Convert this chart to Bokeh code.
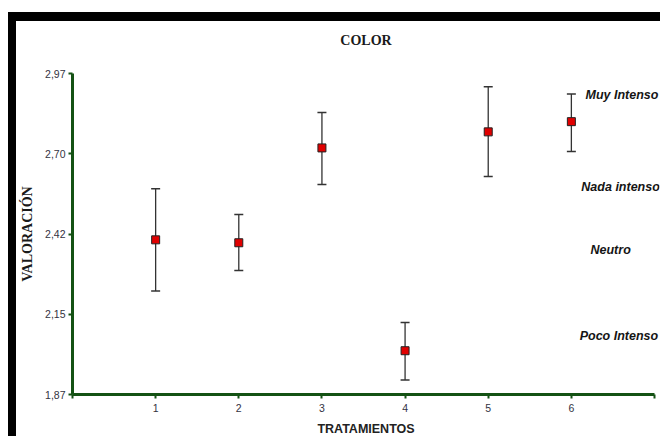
from bokeh.plotting import figure
from bokeh.models import (Range1d, FixedTicker, Whisker, TeeHead, ColumnDataSource, Label,
                          LinearAxis)
from bokeh.embed import file_html
from bokeh.resources import INLINE

# ---- data ----
tratamientos = [1, 2, 3, 4, 5, 6]
media = [2.40, 2.39, 2.715, 2.02, 2.77, 2.805]
limite_inf = [2.225, 2.295, 2.59, 1.92, 2.617, 2.703]
limite_sup = [2.575, 2.487, 2.836, 2.117, 2.925, 2.90]

y_ticks = [1.87, 2.145, 2.42, 2.695, 2.97]
y_tick_labels = ["1,87", "2,15", "2,42", "2,70", "2,97"]
x_ticks = [0, 1, 2, 3, 4, 5, 6, 7]
x_tick_labels = ["", "1", "2", "3", "4", "5", "6", ""]

escala = ["Muy Intenso", "Nada intenso", "Neutro", "Poco Intenso"]
escala_x = [6.17, 6.12, 6.23, 6.10]
escala_y = [2.895, 2.580, 2.364, 2.069]

titulo = "COLOR"
x_titulo = "TRATAMIENTOS"
y_titulo = "VALORACIÓN"

GREEN = "#145214"
SANS = "Liberation Sans"

p = figure(width=652, height=424, output_backend="svg", toolbar_location=None,
           x_range=Range1d(0, 7.06), y_range=Range1d(1.87, 2.97),
           min_border_left=56, min_border_right=9, min_border_top=52, min_border_bottom=51)
p.styles = {"border-top": "9px solid black", "border-left": "8px solid black",
            "margin-left": "8px", "margin-top": "12px"}
p.outline_line_color = None
p.grid.visible = False
p.background_fill_color = "white"
p.border_fill_color = "white"

for ax in (p.xaxis[0], p.yaxis[0]):
    ax.axis_line_color = GREEN
    ax.axis_line_width = 3
    ax.major_tick_line_color = GREEN
    ax.major_tick_line_width = 2
    ax.major_tick_out = 4
    ax.major_tick_in = 0
    ax.minor_tick_line_color = None
    ax.major_label_text_font = SANS
    ax.major_label_text_font_size = "10.5px"
    ax.major_label_text_color = "#33333f"

p.xaxis.bounds = (0, 7)
p.xaxis.ticker = FixedTicker(ticks=x_ticks)
p.xaxis.major_label_overrides = {t: l for t, l in zip(x_ticks, x_tick_labels)}
p.yaxis.ticker = FixedTicker(ticks=y_ticks)
p.yaxis.major_label_overrides = {t: l for t, l in zip(y_ticks, y_tick_labels)}
p.yaxis.major_label_standoff = 3
p.xaxis.major_label_standoff = 5

p.xaxis.axis_label = x_titulo
p.xaxis.axis_label_text_font = SANS
p.xaxis.axis_label_text_font_style = "bold"
p.xaxis.axis_label_text_font_size = "12.5px"
p.xaxis.axis_label_text_color = "#222222"
p.xaxis.axis_label_standoff = 7

p.yaxis.axis_label = y_titulo
p.yaxis.axis_label_text_font = "Liberation Serif"
p.yaxis.axis_label_text_font_style = "bold"
p.yaxis.axis_label_text_font_size = "14px"
p.yaxis.axis_label_text_color = "#1a1a1a"
p.yaxis.axis_label_standoff = 7

# chart title as the label of an empty axis above the frame
top = LinearAxis(ticker=FixedTicker(ticks=[]), axis_label=titulo,
                 axis_line_color=None, major_tick_line_color=None, minor_tick_line_color=None,
                 major_tick_out=0, major_tick_in=0, major_label_standoff=0,
                 axis_label_standoff=26,
                 axis_label_text_font="Liberation Serif", axis_label_text_font_style="bold",
                 axis_label_text_font_size="14px", axis_label_text_color="#1a1a1a")
p.add_layout(top, "above")

src = ColumnDataSource(dict(x=tratamientos, y=media, lo=limite_inf, hi=limite_sup))

w = Whisker(source=src, base="x", lower="lo", upper="hi",
            line_color="#333333", line_width=1.3,
            upper_head=TeeHead(size=9, line_color="#333333", line_width=1.5),
            lower_head=TeeHead(size=9, line_color="#333333", line_width=1.5))
p.add_layout(w)

p.scatter("x", "y", source=src, marker="square", size=8,
          fill_color="#e00000", line_color="#222222", line_width=1)

for t, xx, yy in zip(escala, escala_x, escala_y):
    p.add_layout(Label(x=xx, y=yy, text=t, text_align="left", text_baseline="middle",
                       text_font=SANS, text_font_style="bold italic",
                       text_font_size="12.5px", text_color="#151515"))

open("out.html", "w").write(file_html(p, INLINE))
